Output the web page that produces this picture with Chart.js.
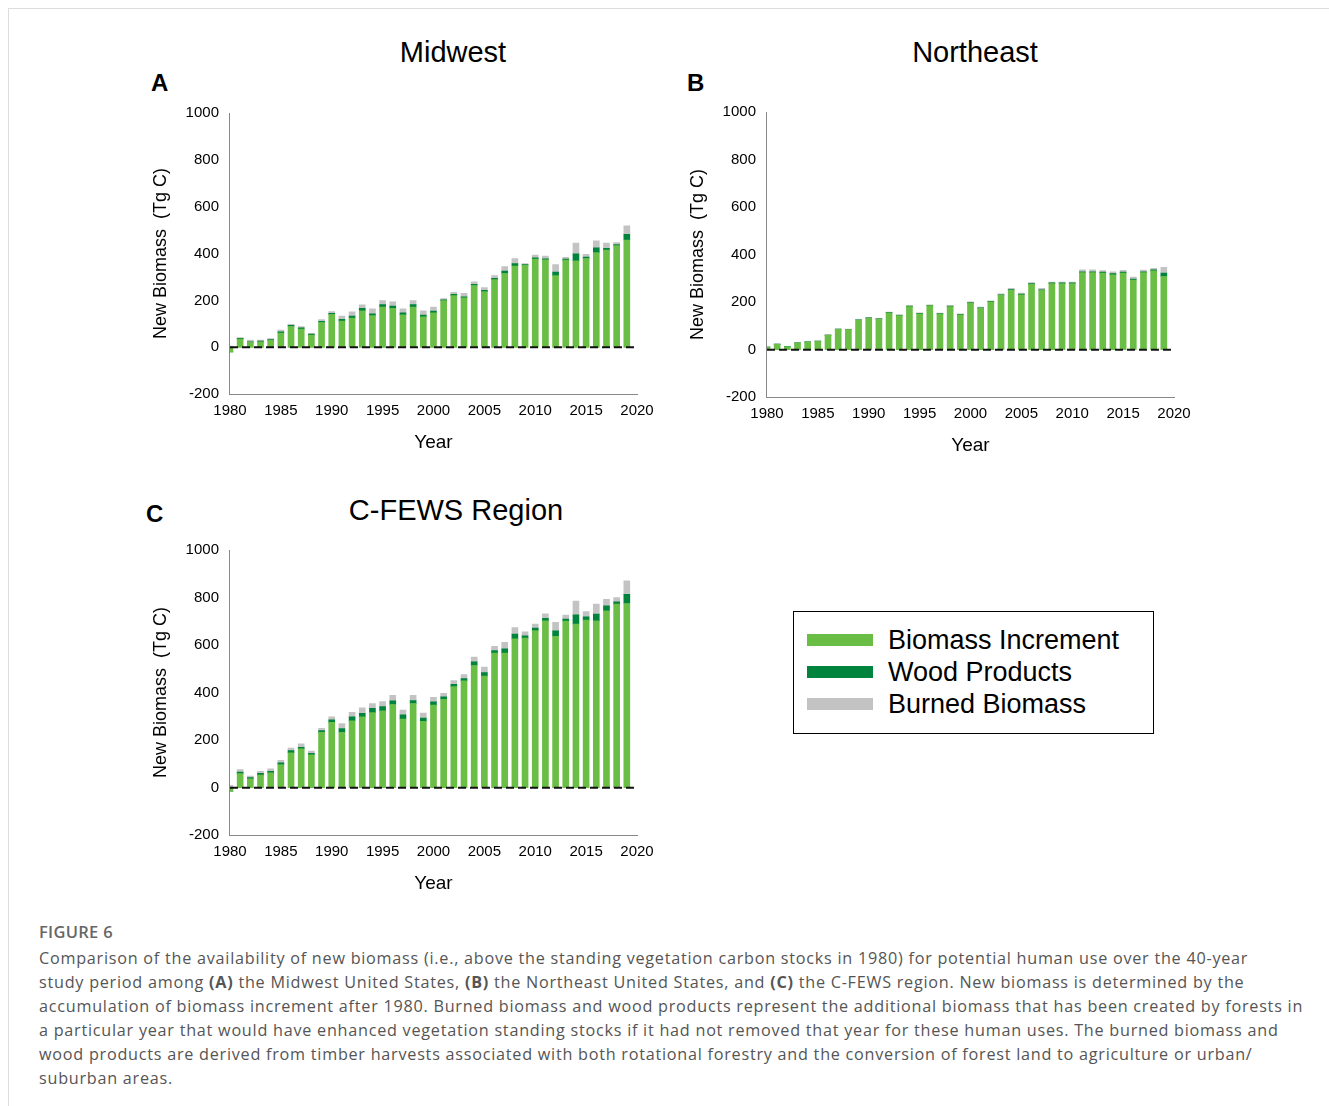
<!DOCTYPE html>
<html>
<head>
<meta charset="utf-8">
<script src="https://cdn.jsdelivr.net/npm/chart.js@4.4.1/dist/chart.umd.min.js"></script>
<style>
  body { margin: 0; background: #fff; font-family: "Liberation Sans", Arial, sans-serif; }
  #frame { position: absolute; left: 8px; top: 8px; width: 1321px; height: 1098px; border-left: 1px solid #ddd; border-top: 1px solid #ddd; }
  .box { position: absolute; }
  .letter { position: absolute; font-size: 24px; font-weight: bold; color: #000; }
  .ttl { position: absolute; font-size: 29px; color: #000; width: 400px; text-align: center; }
  #legend { position: absolute; left: 793px; top: 611px; width: 361px; height: 123px; border: 1.5px solid #000; box-sizing: border-box; padding: 12px 0 0 13px; }
  .item { display: flex; align-items: center; height: 32px; font-size: 27px; color: #000; }
  .sw { width: 66px; height: 12px; margin-right: 15px; }
  #caption { position: absolute; left: 39px; top: 920px; width: 1285px; color: #555; font-family: "Open Sans", sans-serif; font-size: 16.2px; line-height: 24px; white-space: nowrap; letter-spacing: 0.75px; }
  #caption .fig { font-size: 16.5px; font-weight: 600; color: #666; margin-bottom: 2px; letter-spacing: 0.3px; }
</style>
</head>
<body>
<div id="frame"></div>
<div class="ttl" style="left:253px;top:36px">Midwest</div>
<div class="ttl" style="left:775px;top:36px">Northeast</div>
<div class="ttl" style="left:256px;top:494px">C-FEWS Region</div>
<div class="letter" style="left:151px;top:69px">A</div>
<div class="letter" style="left:687px;top:69px">B</div>
<div class="letter" style="left:146px;top:500px">C</div>
<div class="box" style="left:146px;top:98px;width:525px;height:360px"><canvas id="chartA"></canvas></div>
<div class="box" style="left:683px;top:97px;width:525px;height:364px"><canvas id="chartB"></canvas></div>
<div class="box" style="left:146px;top:535px;width:525px;height:364px"><canvas id="chartC"></canvas></div>
<div id="legend">
  <div class="item"><div class="sw" style="background:#6abd45"></div>Biomass Increment</div>
  <div class="item"><div class="sw" style="background:#00843d"></div>Wood Products</div>
  <div class="item"><div class="sw" style="background:#c3c3c3"></div>Burned Biomass</div>
</div>
<div id="caption">
  <div class="fig">FIGURE 6</div>
  Comparison of the availability of new biomass (i.e., above the standing vegetation carbon stocks in 1980) for potential human use over the 40-year<br>
  study period among <b>(A)</b> the Midwest United States, <b>(B)</b> the Northeast United States, and <b>(C)</b> the C-FEWS region. New biomass is determined by the<br>
  accumulation of biomass increment after 1980. Burned biomass and wood products represent the additional biomass that has been created by forests in<br>
  a particular year that would have enhanced vegetation standing stocks if it had not removed that year for these human uses. The burned biomass and<br>
  wood products are derived from timber harvests associated with both rotational forestry and the conversion of forest land to agriculture or urban/<br>
  suburban areas.
</div>
<script>
const years = [];
for (let y = 1980; y <= 2019; y++) years.push(y);

const midwestIncrement = [-20,35,21,24,30,61,89,78,52,106,140,112,125,156,135,172,166,139,172,130,147,199,221,211,264,238,289,315,347,350,377,373,306,372,369,379,404,415,434,458];
const midwestWood = [0,3,3,3,3,5,5,5,5,5,5,8,8,10,8,10,10,8,10,8,8,4,5,5,5,5,6,10,10,3,5,5,15,5,30,6,21,8,5,24];
const midwestBurned = [5,4,7,4,4,8,4,6,3,7,8,13,19,15,21,17,18,17,17,18,17,5,9,14,10,12,11,20,22,4,12,11,32,7,46,12,30,22,8,36];

const northeastIncrement = [11,22,12,28,32,35,60,86,85,125,132,128,154,143,181,151,185,150,181,147,196,174,201,229,250,231,275,249,278,278,278,324,324,322,315,322,293,324,332,308];
const northeastWood = [0,1,1,1,1,1,1,1,1,1,2,2,2,2,2,2,2,2,2,2,2,2,2,2,3,3,3,3,3,3,3,4,4,4,5,4,4,4,4,14];
const northeastBurned = [1,2,1,1,1,1,2,1,1,1,2,2,2,3,2,2,2,2,2,2,3,3,3,4,5,4,4,6,3,3,3,8,8,7,7,8,8,7,6,24];

const cfewsIncrement = [-15,59,37,53,62,97,147,163,138,233,275,233,281,298,316,323,350,289,354,279,347,372,425,449,514,469,566,566,626,629,661,702,637,701,688,705,702,744,772,775];
const cfewsWood = [0,7,5,7,7,7,9,7,7,7,10,16,17,15,18,18,15,17,12,14,14,10,10,10,15,15,11,18,20,10,10,11,23,8,39,14,28,21,10,38];
const cfewsBurned = [10,10,7,9,10,11,11,14,9,10,13,21,19,23,20,21,23,20,22,21,19,15,16,17,20,23,18,28,28,17,17,18,36,17,58,22,42,27,18,57];

const yTicks = [-200, 0, 200, 400, 600, 800, 1000];
const xTicks = [1980, 1985, 1990, 1995, 2000, 2005, 2010, 2015, 2020];

const FONT = '"Liberation Sans", Arial, sans-serif';

function pts(vals) {
    return vals.map((v, i) => ({ x: years[i], y: v }));
}

function makeChart(id, inc, wood, burned) {
    const ctx = document.getElementById(id).getContext('2d');
    return new Chart(ctx, {
        type: 'bar',
        data: {
            datasets: [
                { label: 'Biomass Increment', data: pts(inc), backgroundColor: '#6abd45', stack: 's', barThickness: 6, order: 2 },
                { label: 'Wood Products', data: pts(wood), backgroundColor: '#00843d', stack: 's', barThickness: 6, order: 2 },
                { label: 'Burned Biomass', data: pts(burned), backgroundColor: '#c3c3c3', stack: 's', barThickness: 6, order: 2 },
                {
                    type: 'line', label: 'zero', stack: 'z', order: 1,
                    data: [{ x: 1980, y: 0 }, { x: 2020, y: 0 }],
                    borderColor: '#111', borderWidth: 2, borderDash: [8, 4],
                    pointRadius: 0, fill: false
                }
            ]
        },
        options: {
            responsive: true,
            maintainAspectRatio: false,
            animation: false,
            layout: { padding: { top: 0, right: 34 } },
            plugins: {
                legend: { display: false },
                tooltip: { enabled: false }
            },
            scales: {
                x: {
                    type: 'linear', min: 1980, max: 2020, stacked: true, offset: false,
                    afterBuildTicks: axis => { axis.ticks = xTicks.map(v => ({ value: v })); },
                    grid: { display: false, drawTicks: true, tickLength: 5, tickColor: '#888' },
                    border: { color: '#888' },
                    ticks: { color: '#000', font: { family: FONT, size: 15 }, maxRotation: 0, callback: v => String(v) },
                    title: { display: true, text: 'Year', color: '#000', font: { family: FONT, size: 19 }, padding: { top: 8 } }
                },
                y: {
                    min: -200, max: 1000, stacked: true,
                    afterBuildTicks: axis => { axis.ticks = yTicks.map(v => ({ value: v })); },
                    grid: { display: false, drawTicks: true, tickLength: 5, tickColor: '#888' },
                    border: { color: '#888' },
                    ticks: { color: '#000', font: { family: FONT, size: 15 }, padding: 6, callback: v => String(v) },
                    title: { display: true, text: 'New Biomass  (Tg C)', color: '#000', font: { family: FONT, size: 18 }, padding: { bottom: 8 } }
                }
            }
        }
    });
}

makeChart('chartA', midwestIncrement, midwestWood, midwestBurned);
makeChart('chartB', northeastIncrement, northeastWood, northeastBurned);
makeChart('chartC', cfewsIncrement, cfewsWood, cfewsBurned);
</script>
</body>
</html>
